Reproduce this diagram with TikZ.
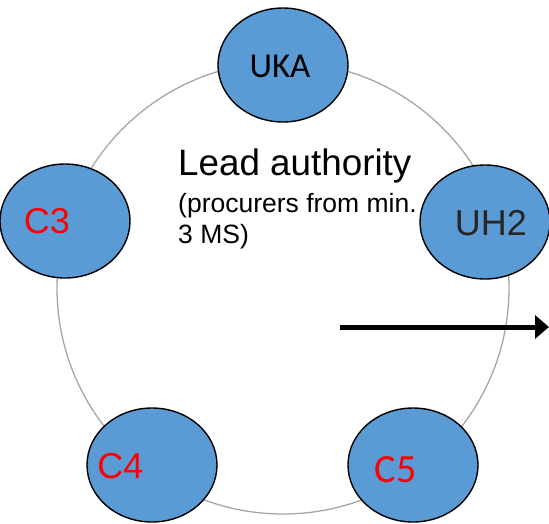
\documentclass[tikz,border=0pt]{standalone}
\usepackage{fontspec}
\setmainfont{Liberation Sans}
\newfontfamily\calib{Carlito}
\usetikzlibrary{shapes.geometric,arrows.meta}
\definecolor{nodeblue}{HTML}{5B9BD5}
\definecolor{ringgray}{HTML}{A6A6A6}
\definecolor{darktext}{HTML}{262626}
\tikzset{
  member/.style={ellipse, draw=black, line width=1.4pt, fill=nodeblue,
    minimum width=130pt, minimum height=114pt, inner sep=0pt},
  lbl/.style={inner sep=0pt, anchor=center},
}
\begin{document}
\begin{tikzpicture}[x=1pt,y=-1pt]
\useasboundingbox (0,0) rectangle (549,523);
\node[circle, draw=ringgray, line width=1.3pt, minimum size=452pt, inner sep=0pt] (ring) at (283,288) {};
\node[member] (uka) at (283,65) {};
\node[member] (c3) at (65,221) {};
\node[member] (uh2) at (485,222) {};
\node[member] (c4) at (152,465) {};
\node[member] (c5) at (413,465) {};
\node[lbl] (tuka) at (280,66) {\calib\fontsize{35}{40}\selectfont UKA};
\node[lbl, text=darktext] (tuh2) at (491,223) {\fontsize{36}{40}\selectfont UH2};
\node[lbl, text=red] (tc3) at (47,221.5) {\fontsize{36}{40}\selectfont C3};
\node[lbl, text=red] (tc4) at (120.5,466) {\fontsize{36}{40}\selectfont C4};
\node[lbl, text=red] (tc5) at (395.5,470) {\calib\fontsize{40}{44}\selectfont C5};
\node[anchor=base west, inner sep=0pt] (lead) at (178,175) {\fontsize{36.8}{40}\selectfont Lead authority};
\node[anchor=base west, inner sep=0pt] (proc1) at (178,212) {\fontsize{26.5}{32}\selectfont (procurers from min.};
\node[anchor=base west, inner sep=0pt] (proc2) at (178,243) {\fontsize{26.5}{32}\selectfont 3 MS)};
\coordinate (arrS) at (340,327);
\coordinate (arrE) at (549,327);
\draw[line width=5pt, -{Triangle[length=14pt,width=23pt]}] (arrS) -- (arrE);
\end{tikzpicture}
\end{document}
